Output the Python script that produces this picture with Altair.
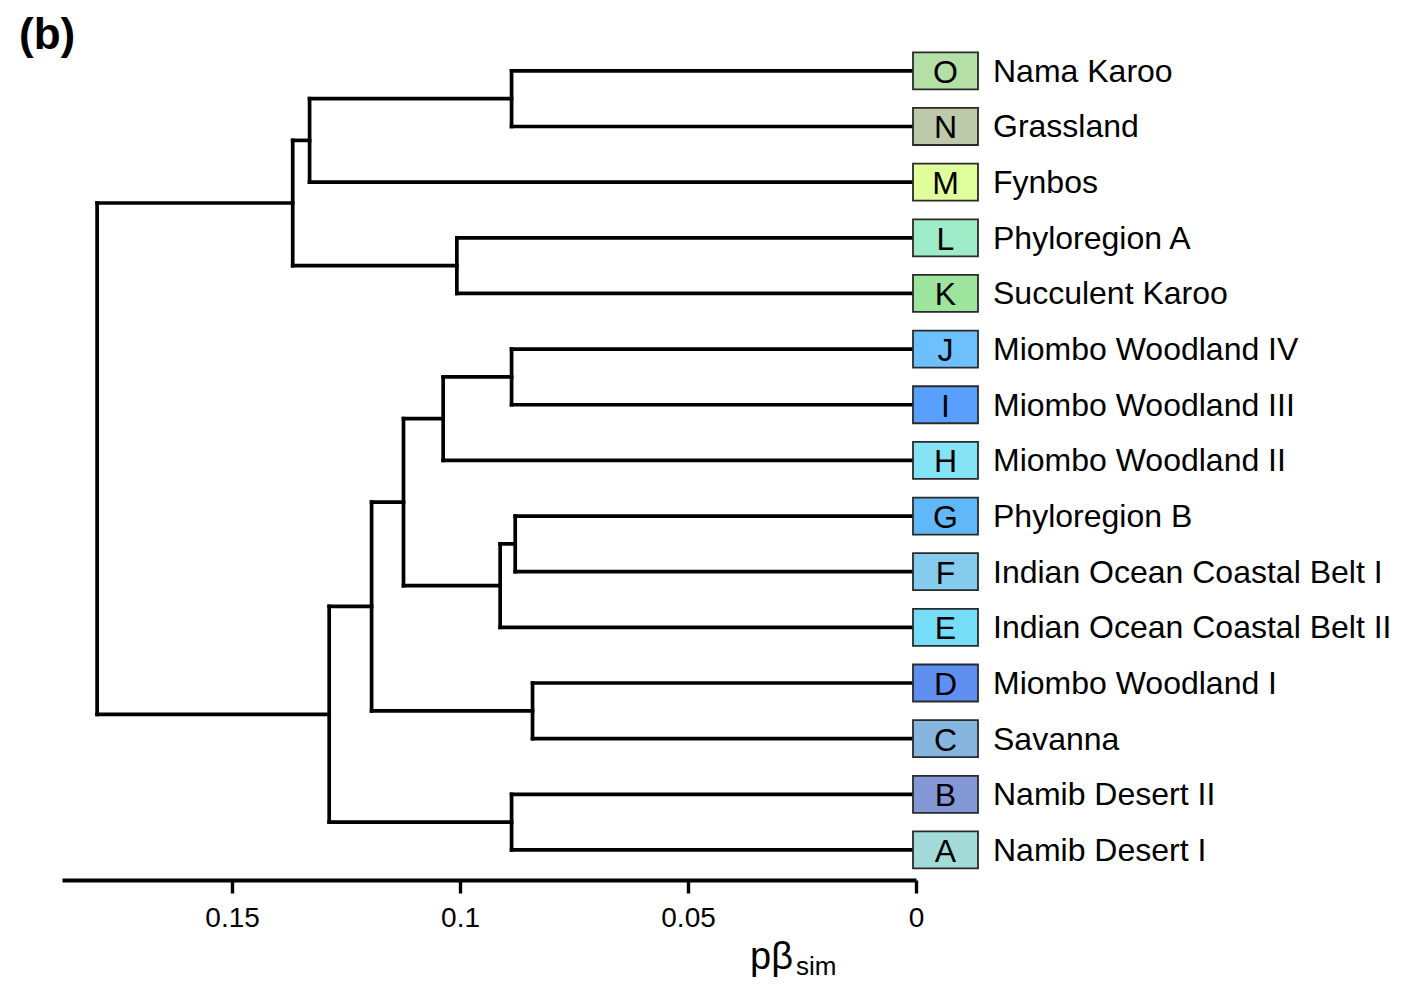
import altair as alt
import pandas as pd

# ---- data ----
leaf_codes = list("ABCDEFGHIJKLMNO")
leaf_names = [
    "Namib Desert I", "Namib Desert II", "Savanna", "Miombo Woodland I",
    "Indian Ocean Coastal Belt II", "Indian Ocean Coastal Belt I", "Phyloregion B",
    "Miombo Woodland II", "Miombo Woodland III", "Miombo Woodland IV",
    "Succulent Karoo", "Phyloregion A", "Fynbos", "Grassland", "Nama Karoo",
]
leaf_colors = [
    "#a3dbd8", "#8598d6", "#86b5e0", "#5f8ff0", "#76ddf8", "#84cbee", "#60b8f9",
    "#86e3f6", "#59a0fe", "#6cc0fe", "#9de59d", "#9eebc8", "#e1fe9c", "#bdc9a9",
    "#b4dfa6",
]
# merges: node n1..n14 joins left & right at height
merge_left = ["O", "n1", "L", "n2", "J", "n5", "G", "n7", "n6", "D", "n9", "B", "n11", "n4"]
merge_right = ["N", "M", "K", "n3", "I", "H", "F", "E", "n8", "C", "n10", "A", "n12", "n13"]
merge_heights = [0.0887, 0.1330, 0.1007, 0.1367, 0.0887, 0.1037, 0.0879, 0.0912,
                 0.1124, 0.0841, 0.1194, 0.0887, 0.1287, 0.1796]
tick_values = [0, 0.05, 0.1, 0.15]

# ---- build dendrogram segments ----
pos = {c: (0.0, i) for i, c in enumerate(leaf_codes)}
segs = []
for k, (l, r, h) in enumerate(zip(merge_left, merge_right, merge_heights)):
    hl, yl = pos[l]
    hr, yr = pos[r]
    segs.append(dict(x=h, x2=h, y=yl, y2=yr))
    segs.append(dict(x=hl, x2=h, y=yl, y2=yl))
    segs.append(dict(x=hr, x2=h, y=yr, y2=yr))
    pos[f"n{k+1}"] = (h, (yl + yr) / 2)
seg_df = pd.DataFrame(segs)
leaf_df = pd.DataFrame({"code": leaf_codes, "name": leaf_names,
                        "color": leaf_colors, "idx": list(range(len(leaf_codes)))})

FONT = "Liberation Sans"
xscale = alt.Scale(domain=[0, 0.1873], reverse=True, nice=False, zero=False)
yscale = alt.Scale(domain=[-0.54, 14.5], nice=False, zero=False)

lines = alt.Chart(seg_df).mark_rule(color="black", strokeWidth=3.7, strokeCap="square").encode(
    x=alt.X("x:Q", scale=xscale, axis=alt.Axis(
        values=tick_values, format=".2~f", title=None, grid=False,
        domainColor="black", domainWidth=3.8, tickColor="black", tickWidth=3.4,
        tickSize=13, labelFontSize=28, labelFont=FONT, labelColor="black",
        labelPadding=11, labelFlush=False, labelOverlap=False)),
    x2="x2:Q",
    y=alt.Y("y:Q", scale=yscale, axis=None),
    y2="y2:Q",
)

boxes = alt.Chart(leaf_df).transform_calculate(
    lo="datum.idx - 0.3325", hi="datum.idx + 0.3325"
).mark_rect(stroke="#2a2a2a", strokeWidth=1.8).encode(
    x=alt.value(851), x2=alt.value(916),
    y=alt.Y("lo:Q", scale=yscale, axis=None), y2="hi:Q",
    color=alt.Color("color:N", scale=None),
)

codes = alt.Chart(leaf_df).mark_text(font=FONT, fontSize=32, color="black",
                                     align="center", baseline="middle", dy=2).encode(
    x=alt.value(883.5), y=alt.Y("idx:Q", scale=yscale, axis=None), text="code:N")

names = alt.Chart(leaf_df).mark_text(font=FONT, fontSize=32, color="black",
                                     align="left", baseline="middle", dy=1).encode(
    x=alt.value(931), y=alt.Y("idx:Q", scale=yscale, axis=None), text="name:N")

title_main = alt.Chart(pd.DataFrame({"t": ["pβ"]})).mark_text(
    font=FONT, fontSize=38, color="black", align="left", baseline="alphabetic").encode(
    x=alt.value(688), y=alt.value(926), text="t:N")
title_sub = alt.Chart(pd.DataFrame({"t": ["sim"]})).mark_text(
    font=FONT, fontSize=26, color="black", align="left", baseline="alphabetic").encode(
    x=alt.value(734), y=alt.value(932), text="t:N")
panel = alt.Chart(pd.DataFrame({"t": ["(b)"]})).mark_text(
    font=FONT, fontSize=44, fontWeight="bold", color="black", align="left",
    baseline="alphabetic").encode(x=alt.value(-43), y=alt.value(6), text="t:N")

chart = alt.layer(lines, boxes, codes, names, title_main, title_sub, panel).properties(
    width=854, height=837,
    autosize=alt.AutoSizeParams(type="none"),
    padding={"left": 54, "top": 35, "right": 475, "bottom": 100},
).configure_view(stroke=None)

chart.save("out.html", embed_options={"renderer": "svg", "actions": False})
